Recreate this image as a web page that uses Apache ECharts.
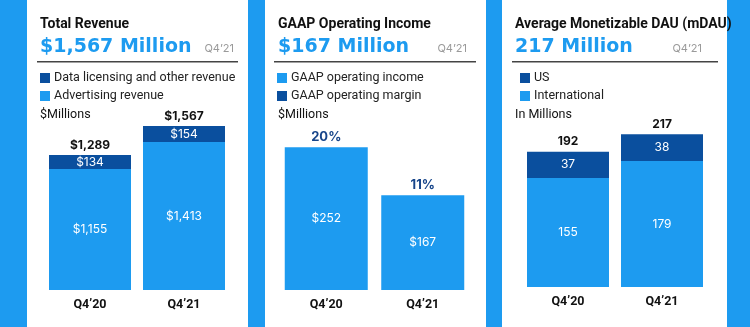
<!DOCTYPE html>
<html><head><meta charset="utf-8">
<script src="https://cdn.jsdelivr.net/npm/echarts@6/dist/echarts.min.js"></script>
<style>html,body{margin:0;padding:0;background:#1D9BF0}#c{width:750px;height:327px}</style>
</head><body><div id="c"></div>
<script>
const categories = ['Q4\u201920', 'Q4\u201921'];
// Panel 1: Total Revenue ($Millions)
const advertisingRevenue = [1155, 1413];
const dataLicensingRevenue = [134, 154];
const totalRevenue = [1289, 1567];
// Panel 2: GAAP Operating Income ($Millions)
const operatingIncome = [252, 167];
const operatingMargin = [20, 11];
// Panel 3: Average mDAU (In Millions)
const internationalDAU = [155, 179];
const usDAU = [37, 38];
const totalDAU = [192, 217];

const LIGHT = '#1D9BF0', DARK = '#0A4F9E';
const FONT = 'Inter, Roboto, sans-serif';
const RFONT = 'Roboto, sans-serif';
const HFONT = '"DejaVu Sans", sans-serif';
const fmt = v => v.toLocaleString('en-US');
const chart = echarts.init(document.getElementById('c'));

const panels = [
  {x: 27, w: 221, tx: 40, title: 'Total Revenue', head: '$1,567 Million', qx: 234, dl: 37, dr: 238, unit: '$Millions'},
  {x: 265, w: 221, tx: 278, title: 'GAAP Operating Income', head: '$167 Million', qx: 467, dl: 274, dr: 476, unit: '$Millions'},
  {x: 502, w: 225, tx: 515, title: 'Average Monetizable DAU (mDAU)', head: '217 Million', qx: 702, dl: 512, dr: 718, unit: 'In Millions'}
];
const graphic = [];
panels.forEach(p => {
  graphic.push({type: 'rect', z: -10, shape: {x: p.x, y: 0, width: p.w, height: 327}, style: {fill: '#fff'}});
  graphic.push({type: 'text', x: p.tx, y: 17, style: {text: p.title, font: 'bold 14px ' + RFONT, fill: '#111'}});
  graphic.push({type: 'text', x: p.tx, y: 38, style: {text: p.head, font: 'bold 19px ' + HFONT, fill: LIGHT}});
  graphic.push({type: 'text', x: p.qx, y: 43, style: {text: 'Q4\u201921', font: '11px ' + FONT, fill: '#9a9a9a', align: 'right'}});
  graphic.push({type: 'rect', shape: {x: p.dl, y: 61, width: p.dr - p.dl, height: 1.5}, style: {fill: '#444'}});
  graphic.push({type: 'text', x: p.tx, y: 108, style: {text: p.unit, font: '12.5px ' + RFONT, fill: '#111'}});
});

const grids = [
  {left: 43, width: 188, top: 112, bottom: 37},
  {left: 278, width: 193, top: 120, bottom: 37},
  {left: 521, width: 188, top: 111, bottom: 40}
];
const yMax = [1700, 300, 250];
const xAxis = grids.map((g, i) => ({
  type: 'category', gridIndex: i, data: categories,
  axisLine: {show: false}, axisTick: {show: false},
  axisLabel: {margin: 8, fontSize: 12.5, fontWeight: 'bold', color: '#111', fontFamily: RFONT}
}));
const yAxis = grids.map((g, i) => ({type: 'value', gridIndex: i, min: 0, max: yMax[i], show: false, splitLine: {show: false}}));

const inLabel = (f) => ({show: true, position: 'inside', color: '#fff', fontSize: 12, fontFamily: FONT, formatter: f});
const topLabel = (f, color, size) => ({show: true, position: 'top', distance: 4, color: color, fontSize: size, fontWeight: 'bold', fontFamily: FONT, formatter: f});

const series = [
  {name: 'Advertising revenue', type: 'bar', stack: 'r', xAxisIndex: 0, yAxisIndex: 0, barWidth: 82, data: advertisingRevenue,
   itemStyle: {color: LIGHT}, label: inLabel(p => '$' + fmt(p.value))},
  {name: 'Data licensing and other revenue', type: 'bar', stack: 'r', xAxisIndex: 0, yAxisIndex: 0, barWidth: 82, data: dataLicensingRevenue,
   itemStyle: {color: DARK}, label: inLabel(p => '$' + fmt(p.value))},
  {name: 'Total revenue', type: 'scatter', xAxisIndex: 0, yAxisIndex: 0, symbolSize: 0, data: totalRevenue,
   itemStyle: {opacity: 1}, label: topLabel(p => '$' + fmt(p.value), '#111', 12)},
  {name: 'GAAP operating income', type: 'bar', xAxisIndex: 1, yAxisIndex: 1, barWidth: 83, data: operatingIncome,
   itemStyle: {color: LIGHT}, label: inLabel(p => '$' + fmt(p.value))},
  {name: 'GAAP operating margin', type: 'scatter', xAxisIndex: 1, yAxisIndex: 1, symbolSize: 0, data: operatingIncome,
   itemStyle: {color: DARK, opacity: 1}, label: topLabel(p => operatingMargin[p.dataIndex] + '%', '#17458A', 13)},
  {name: 'International', type: 'bar', stack: 'd', xAxisIndex: 2, yAxisIndex: 2, barWidth: 82, data: internationalDAU,
   itemStyle: {color: LIGHT}, label: inLabel(p => fmt(p.value))},
  {name: 'US', type: 'bar', stack: 'd', xAxisIndex: 2, yAxisIndex: 2, barWidth: 82, data: usDAU,
   itemStyle: {color: DARK}, label: inLabel(p => fmt(p.value))},
  {name: 'Total DAU', type: 'scatter', xAxisIndex: 2, yAxisIndex: 2, symbolSize: 0, data: totalDAU,
   itemStyle: {opacity: 1}, label: topLabel(p => fmt(p.value), '#111', 12)}
];

const legendBase = {orient: 'vertical', top: 71, icon: 'rect', itemWidth: 10, itemHeight: 10, itemGap: 4, selectedMode: false,
  textStyle: {fontSize: 12.5, lineHeight: 14, color: '#222', fontFamily: RFONT, padding: [0, 0, 0, -1]}, padding: 0};
const legend = [
  Object.assign({}, legendBase, {left: 40, data: [{name: 'Data licensing and other revenue', itemStyle: {color: DARK}}, {name: 'Advertising revenue', itemStyle: {color: LIGHT}}]}),
  Object.assign({}, legendBase, {left: 277, data: [{name: 'GAAP operating income', itemStyle: {color: LIGHT}}, {name: 'GAAP operating margin', itemStyle: {color: DARK}}]}),
  Object.assign({}, legendBase, {left: 520, data: [{name: 'US', itemStyle: {color: DARK}}, {name: 'International', itemStyle: {color: LIGHT}}]})
];

chart.setOption({
  backgroundColor: '#1D9BF0', animation: false,
  textStyle: {fontFamily: FONT},
  graphic: graphic, grid: grids, xAxis: xAxis, yAxis: yAxis, legend: legend, series: series
});
</script></body></html>
